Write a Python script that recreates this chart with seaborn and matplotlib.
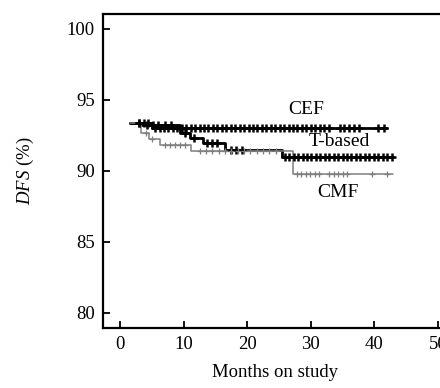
import numpy as np
import pandas as pd
import matplotlib
matplotlib.use("Agg")
import matplotlib.pyplot as plt
import seaborn as sns

# Kaplan-Meier step curves (months, DFS %)
cef_t = [1.5, 5.0, 42.0]
cef_s = [93.4, 93.0, 93.0]
tb_t = [1.5, 3.5, 9.5, 11.0, 13.0, 16.5, 25.5, 43.0]
tb_s = [93.4, 93.2, 92.7, 92.35, 92.0, 91.5, 91.0, 91.0]
cmf_t = [1.5, 3.3, 4.5, 6.3, 11.2, 27.2, 43.0]
cmf_s = [93.4, 92.65, 92.25, 91.85, 91.4, 89.8, 89.8]

# censored observations (months)
cef_cens = [3.0, 3.7, 4.4, 5.5, 6.2, 6.9, 7.6, 8.3, 9.0, 9.7, 10.4, 11.1, 11.8,
            12.5, 13.2, 13.9, 14.6, 15.3, 16.0, 16.7, 17.4, 18.1, 18.8, 19.5,
            20.2, 20.9, 21.6, 22.3, 23.0, 23.7, 24.4, 25.1, 25.8, 26.5, 27.2,
            27.9, 28.6, 29.3, 30.0, 30.7, 31.4, 32.1, 32.8, 34.6, 35.3, 36.0,
            36.8, 37.6, 40.5, 41.5]
tb_cens = [3.0, 4.2, 5.2, 6.0, 7.0, 8.0, 10.2, 11.6, 13.6, 14.4, 15.2, 17.5,
           18.3, 19.1, 25.9, 26.6, 27.3, 28.0, 28.7, 29.4, 30.1, 30.8, 31.5,
           32.2, 32.9, 33.6, 34.3, 35.0, 35.7, 36.4, 37.1, 37.8, 38.5, 39.2,
           39.9, 40.6, 41.3, 42.0, 42.7]
cmf_cens = [4.0, 5.0, 7.0, 7.8, 8.6, 9.4, 10.2, 12.5, 13.5, 14.5, 15.5, 16.5,
            17.5, 18.5, 19.5, 20.5, 21.5, 22.5, 23.5, 24.5, 27.8, 28.5, 29.2,
            29.9, 30.6, 31.3, 32.9, 33.6, 34.3, 35.0, 35.7, 39.6, 42.0]

groups = ["CEF", "T-based", "CMF"]
times = [cef_t, tb_t, cmf_t]
survs = [cef_s, tb_s, cmf_s]
cens = [cef_cens, tb_cens, cmf_cens]
colors = {"CEF": "black", "T-based": "black", "CMF": "#7f7f7f"}
widths = {"CEF": 2.0, "T-based": 2.0, "CMF": 1.1}

curve = pd.concat([pd.DataFrame({"Months": t, "DFS": s, "group": g})
                   for g, t, s in zip(groups, times, survs)])
marks = []
for g, t, s, c in zip(groups, times, survs, cens):
    idx = np.searchsorted(t, c, side="right") - 1
    marks.append(pd.DataFrame({"Months": c, "DFS": np.array(s)[idx], "group": g}))
marks = pd.concat(marks)

sns.set_theme(style="ticks")
plt.rcParams["font.family"] = ["Liberation Serif", "DejaVu Serif"]
plt.rcParams["mathtext.fontset"] = "custom"
plt.rcParams["mathtext.rm"] = "Liberation Serif"
plt.rcParams["mathtext.it"] = "Liberation Serif:italic"
for k in ["text.color", "axes.labelcolor", "xtick.color", "ytick.color",
          "axes.edgecolor"]:
    plt.rcParams[k] = "black"

fig = plt.figure(figsize=(4.4, 3.88), dpi=100)
ax = fig.add_axes([0.234, 0.155, 0.78, 0.809])

for g in groups:
    d = curve[curve.group == g]
    sns.lineplot(data=d, x="Months", y="DFS", drawstyle="steps-post",
                 estimator=None, color=colors[g], lw=widths[g], ax=ax)
    m = marks[marks.group == g]
    sns.scatterplot(data=m, x="Months", y="DFS", marker="+", color=colors[g],
                    s=36 if g != "CMF" else 20,
                    linewidth=1.8 if g != "CMF" else 0.9, ax=ax, zorder=3)

ax.text(29.3, 94.3, "CEF", fontsize=14, ha="center", va="center")
ax.text(34.5, 92.05, "T-based", fontsize=14, ha="center", va="center")
ax.text(34.3, 88.45, "CMF", fontsize=14, ha="center", va="center")

ax.set_xlim(-2.7, 51.3)
ax.set_ylim(78.95, 101.05)
ax.set_xticks([0, 10, 20, 30, 40, 50])
ax.set_yticks([80, 85, 90, 95, 100])
ax.tick_params(direction="in", length=5, width=1.3, labelsize=13.5, pad=6)
for sp in ["left", "bottom", "top"]:
    ax.spines[sp].set_linewidth(1.6)
ax.spines["right"].set_visible(False)
ax.set_xlabel("Months on study", fontsize=13.5, labelpad=8)
ax.set_ylabel(r"$\mathit{DFS}$ (%)", fontsize=13.5, labelpad=22)

fig.savefig("out.png", dpi=100)
